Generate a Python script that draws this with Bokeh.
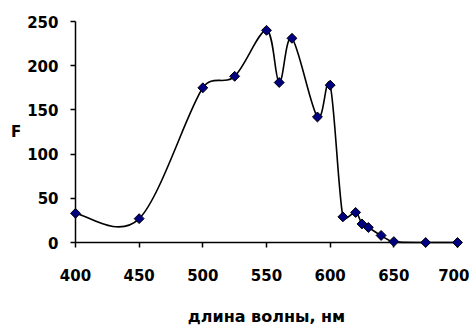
import math
from bokeh.plotting import figure
from bokeh.models import Range1d, FixedTicker, ColumnDataSource
from bokeh.embed import file_html
from bokeh.resources import INLINE

wavelength = [400, 450, 500, 525, 550, 560, 570, 590, 600, 610, 620, 625, 630, 640, 650, 675, 700]
intensity = [33, 27, 175, 188, 240, 181, 231, 142, 178, 29, 34, 21, 17, 8, 1, 0, 0]
x_ticks = [400, 450, 500, 550, 600, 650, 700]
y_ticks = [0, 50, 100, 150, 200, 250]
x_title = "длина волны, нм"
y_title = "F"

FW, FH = 382, 221
BL, BR, BT, BB = 75, 12, 21, 82
XR = (400, 700)
YR = (0, 250)
sx = FW / (XR[1] - XR[0])
sy = FH / (YR[1] - YR[0])

# smoothed curve through the data points (Excel-like), as Bezier segments;
# tangent handles limited to half the chord, measured on screen
n = len(wavelength)
x0, y0, x1, y1, cx0, cy0, cx1, cy1 = [], [], [], [], [], [], [], []
for i in range(n - 1):
    pa = max(i - 1, 0)
    pb = min(i + 2, n - 1)
    chord = math.hypot((wavelength[i + 1] - wavelength[i]) * sx, (intensity[i + 1] - intensity[i]) * sy)
    tx0 = (wavelength[i + 1] - wavelength[pa]) / 6.0
    ty0 = (intensity[i + 1] - intensity[pa]) / 6.0
    tx1 = (wavelength[pb] - wavelength[i]) / 6.0
    ty1 = (intensity[pb] - intensity[i]) / 6.0
    l0 = math.hypot(tx0 * sx, ty0 * sy)
    l1 = math.hypot(tx1 * sx, ty1 * sy)
    if l0 > chord / 2:
        k = chord / 2 / l0; tx0 *= k; ty0 *= k
    if l1 > chord / 2:
        k = chord / 2 / l1; tx1 *= k; ty1 *= k
    x0.append(wavelength[i]); y0.append(intensity[i])
    x1.append(wavelength[i + 1]); y1.append(intensity[i + 1])
    cx0.append(wavelength[i] + tx0); cy0.append(intensity[i] + ty0)
    cx1.append(wavelength[i + 1] - tx1); cy1.append(intensity[i + 1] - ty1)

curve = ColumnDataSource(dict(x0=x0, y0=y0, x1=x1, y1=y1, cx0=cx0, cy0=cy0, cx1=cx1, cy1=cy1))
pts = ColumnDataSource(dict(x=wavelength, y=intensity))

p = figure(frame_width=FW, frame_height=FH, output_backend="svg", toolbar_location=None,
           x_range=Range1d(*XR), y_range=Range1d(*YR),
           min_border_left=BL, min_border_right=BR, min_border_top=BT, min_border_bottom=BB)
p.outline_line_color = None
p.grid.visible = False
p.background_fill_color = "white"
p.border_fill_color = "white"

p.bezier(x0="x0", y0="y0", x1="x1", y1="y1", cx0="cx0", cy0="cy0", cx1="cx1", cy1="cy1",
         source=curve, line_color="black", line_width=1.6, level="overlay")
p.scatter("x", "y", source=pts, marker="square", angle=math.pi / 4, size=7,
          fill_color="#000080", line_color="black", line_width=1, level="overlay")

for ax in (p.xaxis[0], p.yaxis[0]):
    ax.axis_line_color = "black"
    ax.axis_line_width = 1.5
    ax.major_tick_line_color = "black"
    ax.major_tick_line_width = 1.5
    ax.major_tick_in = 0
    ax.major_tick_out = 5
    ax.minor_tick_line_color = None
    ax.major_label_text_font = "DejaVu Sans"
    ax.major_label_text_font_style = "bold"
    ax.major_label_text_font_size = "15px"
    ax.major_label_text_color = "black"
    ax.axis_label_text_font = "DejaVu Sans"
    ax.axis_label_text_font_style = "bold"
    ax.axis_label_text_color = "black"

p.xaxis.ticker = FixedTicker(ticks=x_ticks)
p.yaxis.ticker = FixedTicker(ticks=y_ticks)
p.xaxis.major_label_standoff = 21
p.yaxis.major_label_standoff = 12

p.xaxis.axis_label = x_title
p.xaxis.axis_label_text_font_size = "16px"
p.xaxis.axis_label_standoff = 23
p.yaxis.axis_label = y_title
p.yaxis.axis_label_orientation = "horizontal"
p.yaxis.axis_label_text_font_size = "15px"
p.yaxis.axis_label_standoff = 3

open("out.html", "w").write(file_html(p, INLINE))
